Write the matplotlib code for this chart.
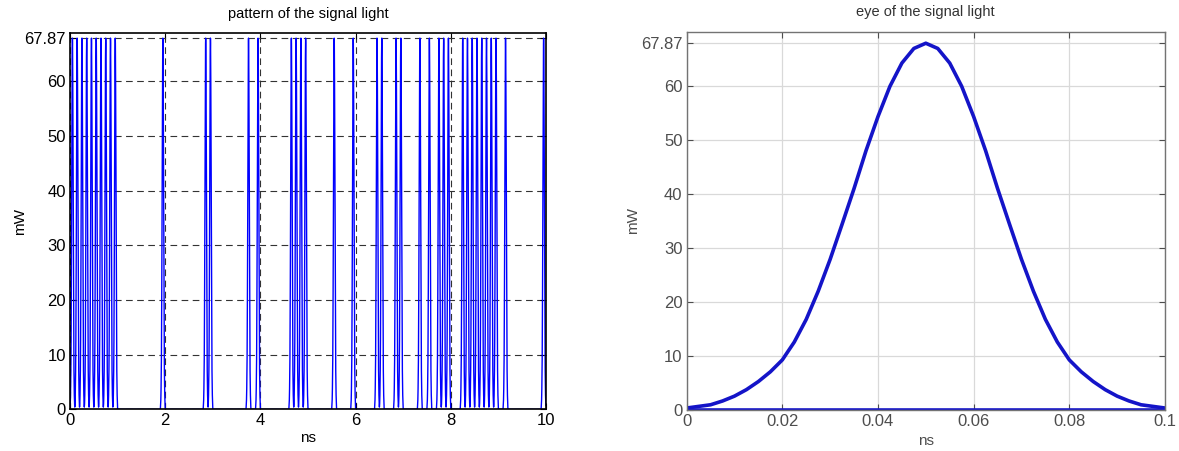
import numpy as np
import matplotlib
matplotlib.use("Agg")
import matplotlib.pyplot as plt

# ==========================================
# DATA
# ==========================================

# eye: one bit slot, 0 .. 0.1 ns, step 0.0025 ns
eye_t = [0.0000, 0.0025, 0.0050, 0.0075, 0.0100, 0.0125, 0.0150, 0.0175, 0.0200, 0.0225,
         0.0250, 0.0275, 0.0300, 0.0325, 0.0350, 0.0375, 0.0400, 0.0425, 0.0450, 0.0475,
         0.0500,
         0.0525, 0.0550, 0.0575, 0.0600, 0.0625, 0.0650, 0.0675, 0.0700, 0.0725, 0.0750,
         0.0775, 0.0800, 0.0825, 0.0850, 0.0875, 0.0900, 0.0925, 0.0950, 0.0975, 0.1000]
eye_mw = [0.4, 0.7, 1.0, 1.7, 2.6, 3.8, 5.3, 7.1, 9.3, 12.6,
          16.8, 22.0, 27.9, 34.4, 41.0, 48.0, 54.3, 59.9, 64.2, 66.9,
          67.87,
          66.9, 64.2, 59.9, 54.3, 48.0, 41.0, 34.4, 27.9, 22.0, 16.8,
          12.6, 9.3, 7.1, 5.3, 3.8, 2.6, 1.7, 1.0, 0.7, 0.4]

# 100 bits of 0.1 ns over 10 ns
bits = ("1111111111" "0000000001" "0000000011" "0000000101"
        "0000001111" "0000010001" "0000110011" "0001010111"
        "0011111111" "0100000001")
bit_ns = 0.1
peak = 67.87

left_yticks = [0, 10, 20, 30, 40, 50, 60, peak]
left_ylabels = ["0", "10", "20", "30", "40", "50", "60", "67.87"]
left_xticks = [0, 2, 4, 6, 8, 10]
right_xticks = [0, 0.02, 0.04, 0.06, 0.08, 0.1]
right_xlabels = ["0", "0.02", "0.04", "0.06", "0.08", "0.1"]

# ==========================================
# BUILD PATTERN FROM THE EYE SHAPE
# ==========================================

shape = np.array(eye_mw)
slot_t = np.array(eye_t)
t_all, p_all = [], []
for k, b in enumerate(bits):
    t_all.append(k * bit_ns + slot_t[:-1])
    p_all.append(shape[:-1] if b == "1" else np.zeros(len(shape) - 1))
t_all = np.concatenate(t_all)
p_all = np.concatenate(p_all)

# ==========================================
# FIGURE
# ==========================================

plt.rcParams["font.family"] = ["Liberation Sans", "DejaVu Sans"]

fig = plt.figure(figsize=(11.79, 4.51), dpi=100)

# left: pattern
ax1 = fig.add_axes([0.0594, 0.0925, 0.4037, 0.8336])
ax1.plot(t_all, p_all, color="#0000ff", lw=1.0)
ax1.set_xlim(0, 10)
ax1.set_ylim(0, 68.75)
ax1.set_xticks(left_xticks)
ax1.set_yticks(left_yticks)
ax1.set_yticklabels(left_ylabels)
ax1.grid(True, color="0.2", linestyle=(0, (6, 4)), linewidth=0.8)
ax1.tick_params(direction="in", top=True, right=True, labelsize=12, length=4, pad=3)
for s in ax1.spines.values():
    s.set_linewidth(1.2)
ax1.set_title("pattern of the signal light", fontsize=10.5, pad=11)
ax1.set_xlabel("ns", fontsize=11, labelpad=2)
ax1.set_ylabel("mW", fontsize=11, labelpad=-2)

# right: eye
ax2 = fig.add_axes([0.5824, 0.0905, 0.4057, 0.8392])
ax2.plot(eye_t, eye_mw, color="#1414c8", lw=2.6)
ax2.plot(eye_t, np.zeros(len(eye_t)), color="#1414c8", lw=2.6)
ax2.set_xlim(0, 0.1)
ax2.set_ylim(0, 70)
ax2.set_xticks(right_xticks)
ax2.set_xticklabels(right_xlabels)
ax2.set_yticks(left_yticks)
ax2.set_yticklabels(left_ylabels)
ax2.grid(True, color="0.85", linestyle="-", linewidth=0.9)
ax2.tick_params(direction="in", top=True, right=True, labelsize=12, length=4,
                colors="0.3", pad=3)
for s in ax2.spines.values():
    s.set_color("0.45")
    s.set_linewidth(1.0)
ax2.set_title("eye of the signal light", fontsize=10.5, pad=11, color="0.2")
ax2.set_xlabel("ns", fontsize=11, color="0.3", labelpad=3)
ax2.set_ylabel("mW", fontsize=11, color="0.3", labelpad=1)

fig.savefig("out.png", dpi=100)
print("saved out.png")
